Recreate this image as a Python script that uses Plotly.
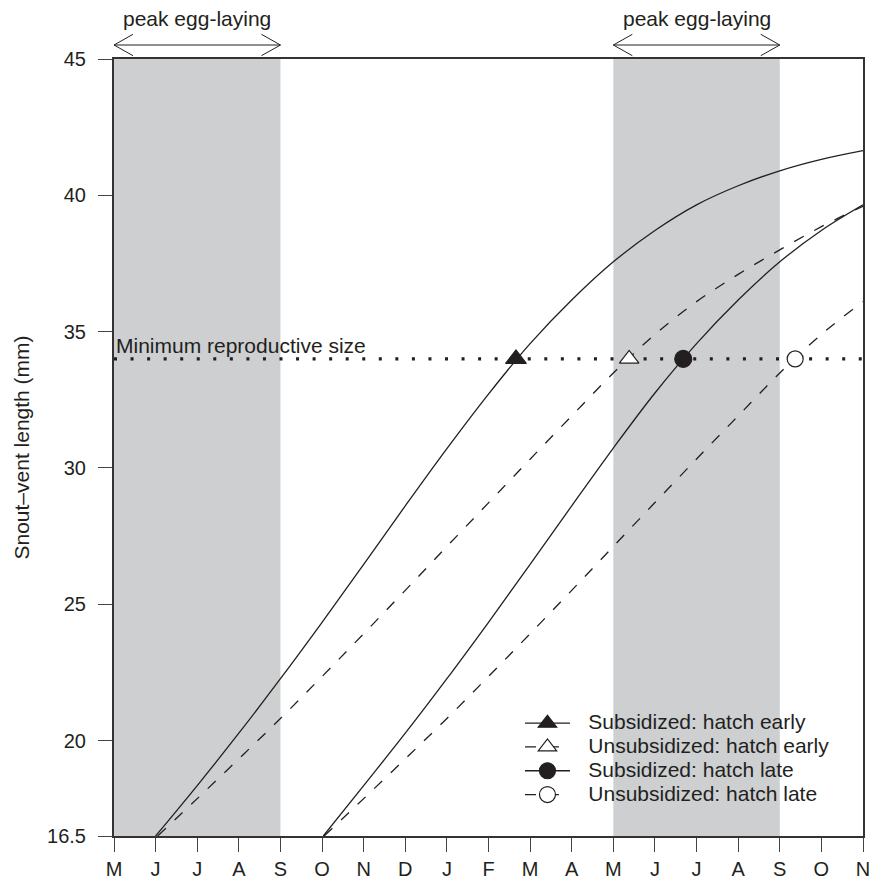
import plotly.graph_objects as go

# ---- data (x: months since May of year 1) ----
month_labels = ["M", "J", "J", "A", "S", "O", "N", "D", "J", "F", "M", "A", "M", "J", "J", "A", "S", "O", "N"]
month_pos = list(range(len(month_labels)))
y_ticks = [16.5, 20, 25, 30, 35, 40, 45]

band_starts = [0, 12]
band_ends = [4, 16]
band_label = "peak egg-laying"

min_repro_size = 34
min_repro_label = "Minimum reproductive size"

sub_early_x = [1, 2, 3, 4, 5, 6, 7, 8, 9, 10, 11, 12, 13, 14, 15, 16, 17, 18]
sub_early_y = [16.5, 18.35, 20.27, 22.27, 24.34, 26.46, 28.61, 30.71, 32.71, 34.56, 36.16, 37.56, 38.71, 39.65, 40.35, 40.9, 41.32, 41.64]

uns_early_x = [1.05, 2, 3, 4, 5, 6, 7, 8, 9, 10, 11, 12, 13, 14, 15, 16, 17, 18]
uns_early_y = [16.5, 17.87, 19.33, 20.81, 22.35, 23.92, 25.51, 27.12, 28.72, 30.32, 31.91, 33.48, 34.9, 36.1, 37.1, 38.0, 38.85, 39.6]

sub_late_x = [5.03, 6, 7, 8, 9, 10, 11, 12, 13, 14, 15, 16, 17, 18]
sub_late_y = [16.5, 18.35, 20.27, 22.27, 24.34, 26.46, 28.61, 30.73, 32.75, 34.56, 36.16, 37.56, 38.71, 39.65]

uns_late_x = [5.05, 6, 7, 8, 9, 10, 11, 12, 13, 14, 15, 16, 17, 18]
uns_late_y = [16.5, 17.87, 19.33, 20.81, 22.35, 23.92, 25.51, 27.12, 28.73, 30.33, 31.91, 33.48, 34.9, 36.1]

series_names = ["Subsidized: hatch early", "Unsubsidized: hatch early",
                "Subsidized: hatch late", "Unsubsidized: hatch late"]
marker_x = [9.66, 12.38, 13.68, 16.37]
marker_y = [34, 34, 34, 34]

# ---- styling ----
INK = "#231f20"
GRAY = "#cdcfd1"
FONT = "Liberation Sans, Arial, sans-serif"
FS = 21
PLOT_H = 777  # px, plot area height
DASH = "11px,12px"

fig = go.Figure()

curves = [
    (sub_early_x, sub_early_y, "solid", "triangle-up", INK, 18),
    (uns_early_x, uns_early_y, DASH, "triangle-up", "white", 17),
    (sub_late_x, sub_late_y, "solid", "circle", INK, 17),
    (uns_late_x, uns_late_y, DASH, "circle", "white", 16),
]

# minimum size dotted line
fig.add_trace(go.Scatter(
    x=[month_pos[0], month_pos[-1]], y=[min_repro_size, min_repro_size],
    mode="lines", line=dict(color=INK, width=3.2, dash="3px,13.55px"),
    showlegend=False, hoverinfo="skip"))

for i, (xs, ys, dash, sym, fill, size) in enumerate(curves):
    fig.add_trace(go.Scatter(
        x=xs, y=ys, mode="lines",
        line=dict(color=INK, width=1.3, dash=dash, shape="spline", smoothing=1.0),
        showlegend=False, legendgroup=str(i), hoverinfo="skip"))

for i, (xs, ys, dash, sym, fill, size) in enumerate(curves):
    fig.add_trace(go.Scatter(
        x=[marker_x[i]], y=[marker_y[i]], mode="lines+markers",
        name="&nbsp;&nbsp;&nbsp;<span style=\"font-size:%dpx\">%s</span>" % (FS, series_names[i]),
        legendgroup=str(i),
        line=dict(color=INK, width=1.3, dash=dash),
        marker=dict(symbol=sym, size=size, color=fill, line=dict(color=INK, width=1.2)),
        showlegend=True))

shapes = []
for s, e in zip(band_starts, band_ends):
    shapes.append(dict(type="rect", xref="x", yref="paper", x0=s, x1=e, y0=0, y1=1,
                       fillcolor=GRAY, line=dict(width=0), layer="below"))
    # double arrow above the plot
    ya = 1 + 14 / PLOT_H
    dy = 10.7 / PLOT_H
    hx = 19 / 41.61
    shapes.append(dict(type="line", xref="x", yref="paper", x0=s, x1=e, y0=ya, y1=ya,
                       line=dict(color=INK, width=1)))
    shapes.append(dict(type="path", xref="x", yref="paper",
                       path=f"M {s+hx},{ya+dy} L {s},{ya} L {s+hx},{ya-dy}",
                       line=dict(color=INK, width=1)))
    shapes.append(dict(type="path", xref="x", yref="paper",
                       path=f"M {e-hx},{ya+dy} L {e},{ya} L {e-hx},{ya-dy}",
                       line=dict(color=INK, width=1)))

annotations = []
for s, e in zip(band_starts, band_ends):
    annotations.append(dict(x=(s + e) / 2, y=1 + 40 / PLOT_H, xref="x", yref="paper",
                            text=band_label, showarrow=False,
                            font=dict(size=FS, color=INK, family=FONT),
                            xanchor="center", yanchor="middle"))
annotations.append(dict(x=month_pos[0], y=min_repro_size, xref="x", yref="y",
                        text=min_repro_label, showarrow=False, xshift=0, yshift=0,
                        font=dict(size=FS, color=INK, family=FONT),
                        xanchor="left", yanchor="bottom"))

fig.update_layout(
    width=873, height=881,
    margin=dict(l=114, r=10, t=59, b=45, autoexpand=False),
    paper_bgcolor="white", plot_bgcolor="white",
    font=dict(family=FONT, color=INK, size=FS),
    shapes=shapes, annotations=annotations,
    showlegend=True,
    legend=dict(x=0.542, y=0.167, xanchor="left", yanchor="top",
                bgcolor="rgba(0,0,0,0)", borderwidth=0,
                font=dict(size=16, color=INK, family=FONT),
                tracegroupgap=0, itemwidth=45, traceorder="normal"),
)

fig.update_xaxes(range=[month_pos[0], month_pos[-1]], tickmode="array",
                 tickvals=month_pos, ticktext=month_labels,
                 ticks="outside", ticklen=14, tickwidth=1.3, tickcolor="#444",
                 ticklabelstandoff=0,
                 showline=True, linecolor="#333", linewidth=2, mirror=True,
                 showgrid=False, zeroline=False,
                 tickfont=dict(size=20, color=INK, family=FONT))
fig.update_yaxes(range=[y_ticks[0], y_ticks[-1]], tickmode="array",
                 tickvals=y_ticks, ticktext=[str(v) for v in y_ticks],
                 ticks="outside", ticklen=14, tickwidth=1.3, tickcolor="#444",
                 ticklabelstandoff=8,
                 showline=True, linecolor="#333", linewidth=2, mirror=True,
                 showgrid=False, zeroline=False,
                 tickfont=dict(size=20, color=INK, family=FONT),
                 title=dict(text="Snout\u2013vent length (mm)", standoff=12,
                            font=dict(size=FS, color=INK, family=FONT)))

fig.write_html("out.html")
